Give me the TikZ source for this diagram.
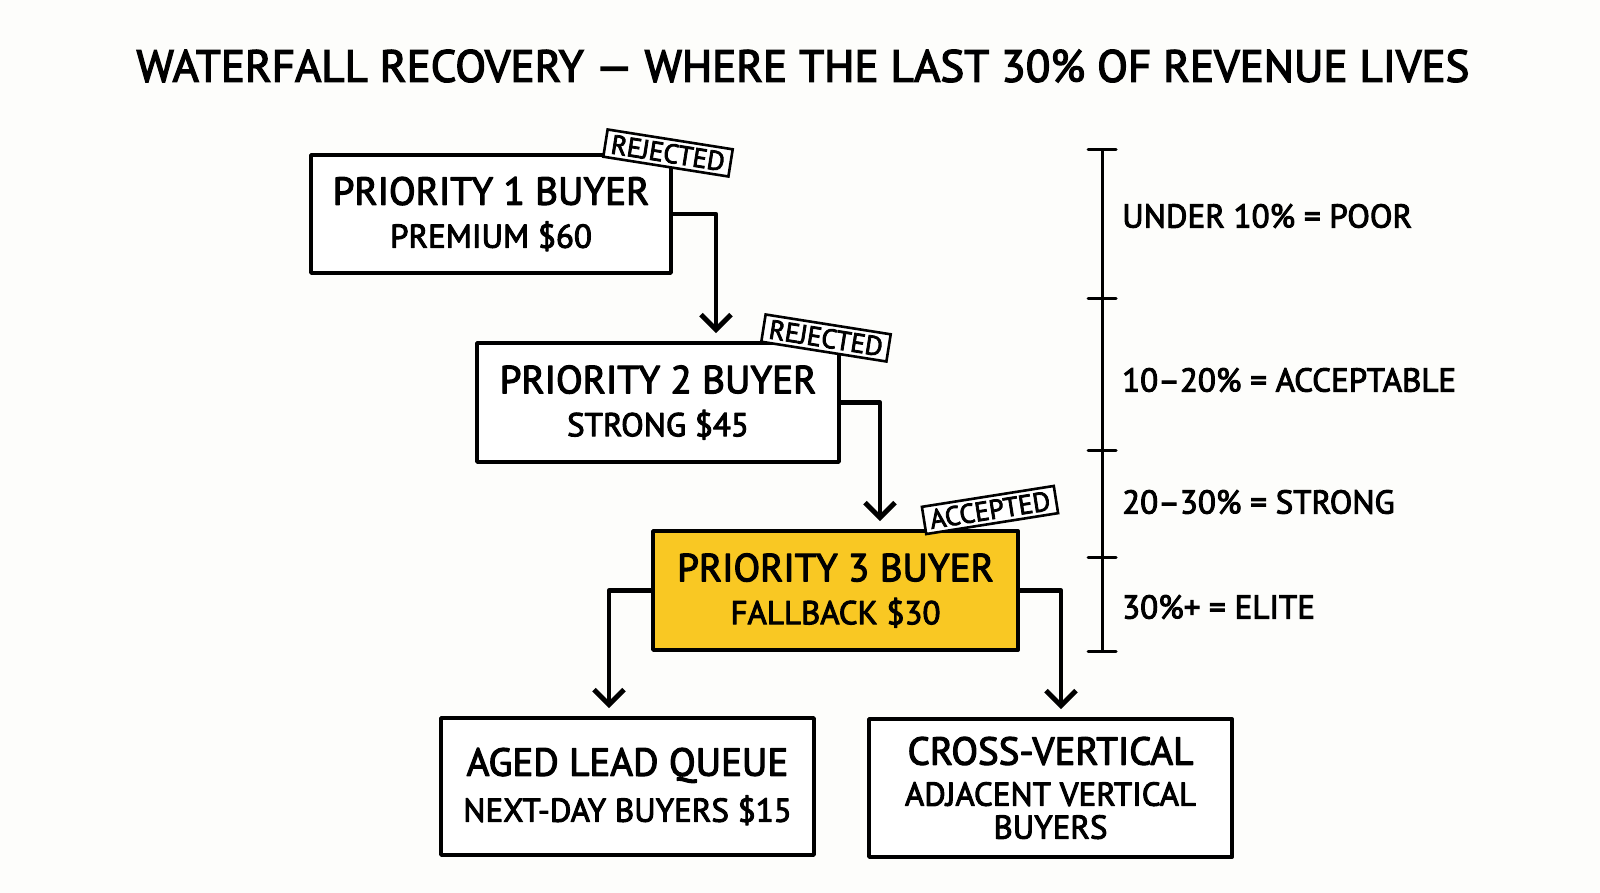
\documentclass[tikz,border=0pt]{standalone}
\usepackage{fontspec}
\setmainfont{PT Sans}[FakeBold=3]
\usetikzlibrary{arrows.meta,calc}
\definecolor{bg}{RGB}{253,253,251}
\definecolor{accent}{RGB}{249,200,35}
\tikzset{
  box/.style={draw=black, line width=3.8pt, fill=white, align=center, inner sep=0pt, line join=round, font=\fontsize{33}{43}\selectfont},
  hot/.style={box, fill=accent},
  stamp/.style={draw=black, line width=2.6pt, fill=white, inner xsep=6pt, inner ysep=4pt, font=\fontsize{27}{27}\selectfont},
  flow/.style={line width=4.5pt, line join=round, -{Straight Barb[length=15pt,width=30pt,line width=5pt]}, shorten >=8pt},
  bar/.style={line width=3pt, line cap=round},
  lbl/.style={anchor=west, inner sep=0pt, font=\fontsize{33}{33}\selectfont},
}
\newcommand{\lineA}[1]{{\fontsize{39}{43}\selectfont #1}}
\newcommand{\lineB}[1]{{\fontsize{33}{43}\selectfont #1}}
\begin{document}
\begin{tikzpicture}[x=1pt,y=-1pt]
\fill[bg] (0,0) rectangle (1600,893);
\useasboundingbox (0,0) rectangle (1600,893);

\node[font=\fontsize{45}{45}\selectfont] (title) at (803,66) {WATERFALL RECOVERY — WHERE THE LAST 30\% OF REVENUE LIVES};

\node[box, minimum width=360pt, minimum height=118pt] (b1) at (491,214) {\lineA{PRIORITY 1 BUYER}\\\lineB{PREMIUM \$60}};
\node[box, minimum width=362pt, minimum height=119pt] (b2) at (658,402.5) {\lineA{PRIORITY 2 BUYER}\\\lineB{STRONG \$45}};
\node[hot, minimum width=365pt, minimum height=119pt] (b3) at (835.5,590.5) {\lineA{PRIORITY 3 BUYER}\\\lineB{FALLBACK \$30}};
\node[box, minimum width=373pt, minimum height=137pt] (b4) at (627.5,786.5) {\lineA{AGED LEAD QUEUE}\\[3pt]\lineB{NEXT-DAY BUYERS \$15}};
\node[box, minimum width=363pt, minimum height=138pt] (b5) at (1050.5,788) {\lineA{CROSS-VERTICAL}\\[-2pt]\lineB{ADJACENT VERTICAL}\\[-10pt]\lineB{BUYERS}};

\node[stamp, rotate=-9] (s1) at (668,153) {REJECTED};
\node[stamp, rotate=-9] (s2) at (826,338) {REJECTED};
\node[stamp, rotate=9] (s3) at (990,510) {ACCEPTED};

\draw[flow] (b1.east) -| ([xshift=58pt]b2.north);
\draw[flow] (b2.east) -| ([xshift=44.5pt]b3.north);
\draw[flow] (b3.west) -| ([xshift=-18.5pt]b4.north);
\draw[flow] (b3.east) -| ([xshift=10.5pt]b5.north);

% scale bar
\coordinate (t0) at (1102,150);
\coordinate (t1) at (1102,298);
\coordinate (t2) at (1102,450);
\coordinate (t3) at (1102,557);
\coordinate (t4) at (1102,651);
\draw[bar] (t0) -- (t4);
\foreach \t in {t0,t1,t2,t3,t4} \draw[bar] ([xshift=-14pt]\t) -- ([xshift=14pt]\t);

\node[lbl] (l1) at (1122,216) {UNDER 10\% = POOR};
\node[lbl] (l2) at (1122,380) {10–20\% = ACCEPTABLE};
\node[lbl] (l3) at (1122,502) {20–30\% = STRONG};
\node[lbl] (l4) at (1122,607) {30\%+ = ELITE};
\end{tikzpicture}
\end{document}
